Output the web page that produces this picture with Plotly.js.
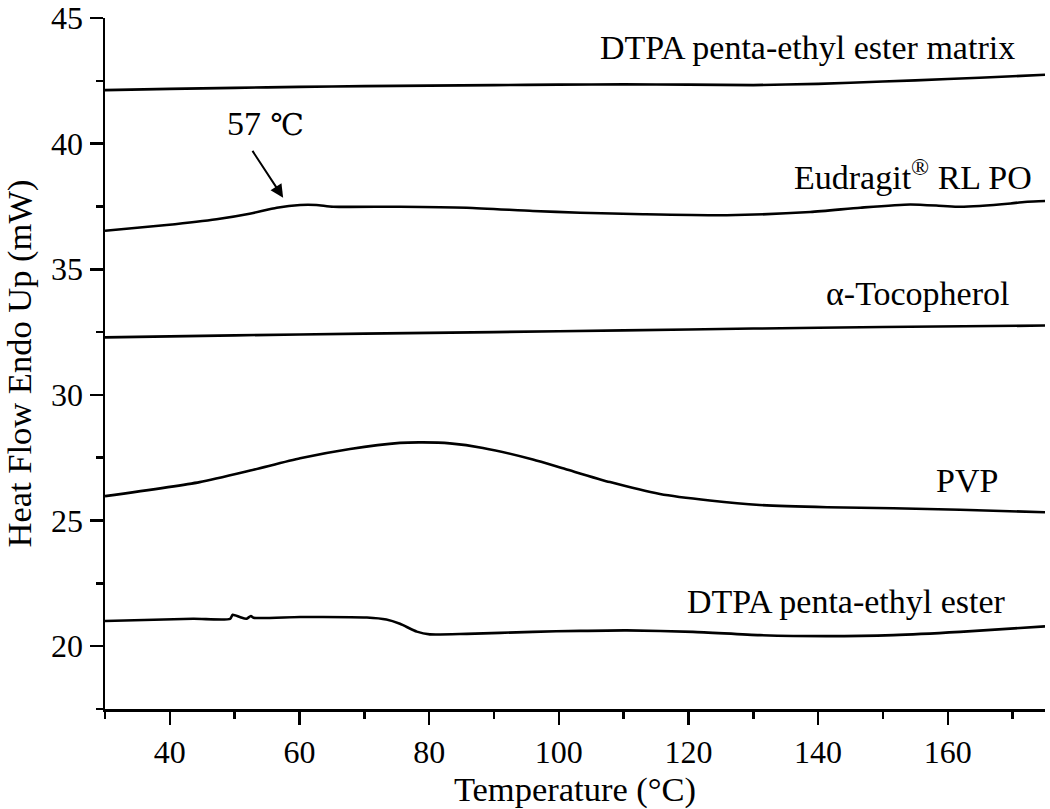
<!DOCTYPE html>
<html>
<head>
<meta charset="utf-8">
<script src="https://cdn.plot.ly/plotly-3.0.1.min.js"></script>
<style>
  body { margin: 0; background: #fff; }
  #plot { width: 1050px; height: 809px; }
</style>
</head>
<body>
<div id="plot"></div>
<script>
// DSC curves, values
var matrixT = [30, 40, 50, 60, 70, 80, 90, 100, 110, 120, 130, 140, 150, 160, 170, 175];
var matrixY = [42.13, 42.18, 42.22, 42.26, 42.29, 42.31, 42.33, 42.35, 42.36, 42.35, 42.33, 42.38, 42.47, 42.57, 42.68, 42.74];

var eudT = [30, 39.5, 47.2, 52.3, 56.5, 60.1, 62.6, 65.2, 75.5, 85.8, 96, 103.3, 113, 125.9, 138.8, 146.5, 154.2, 159.3, 161.9, 169.7, 172.3, 175];
var eudY = [36.53, 36.76, 36.99, 37.21, 37.45, 37.56, 37.56, 37.49, 37.49, 37.45, 37.32, 37.25, 37.19, 37.15, 37.28, 37.45, 37.58, 37.52, 37.49, 37.62, 37.69, 37.72];

var tocoT = [30, 50, 70, 90, 110, 130, 150, 175];
var tocoY = [32.29, 32.37, 32.44, 32.5, 32.57, 32.64, 32.7, 32.76];

var pvpT = [30, 44.6, 52.4, 60.1, 67.8, 75.5, 79, 83.2, 88.3, 96, 101, 107.9, 115.6, 123.3, 131, 141.4, 151.6, 161.9, 175];
var pvpY = [25.97, 26.53, 26.99, 27.48, 27.85, 28.09, 28.11, 28.07, 27.89, 27.43, 27.05, 26.53, 26.06, 25.8, 25.62, 25.53, 25.49, 25.43, 25.33];

var dtpaT = [30, 43.6, 49.3, 49.7, 50.8, 51.8, 52.5, 52.9, 60.1, 70.4, 73.4, 75.5, 78.1, 80.1, 85.8, 96, 103.3, 110.5, 120.7, 131, 141.3, 151.6, 161.9, 175];
var dtpaY = [21.0, 21.09, 21.09, 21.25, 21.16, 21.09, 21.2, 21.13, 21.16, 21.14, 21.06, 20.89, 20.58, 20.47, 20.49, 20.57, 20.61, 20.63, 20.57, 20.44, 20.4, 20.44, 20.57, 20.79];

var labels = ['DTPA penta-ethyl ester matrix', "Eudragit<sup style='font-size:26px'>®</sup> RL PO", 'α-Tocopherol', 'PVP', 'DTPA penta-ethyl ester'];
var labelX = [138.3, 154.6, 155.4, 163.0, 144.4];
var labelY = [43.81, 38.75, 34.03, 26.6, 21.76];

var serif = 'Liberation Serif, Times New Roman, serif';

function curve(x, y) {
  return {
    x: x,
    y: y,
    mode: 'lines',
    type: 'scatter',
    line: { color: 'black', width: 2.6, shape: 'spline', smoothing: 0.6 },
    hoverinfo: 'skip'
  };
}

var data = [
  curve(matrixT, matrixY),
  curve(eudT, eudY),
  curve(tocoT, tocoY),
  curve(pvpT, pvpY),
  curve(dtpaT, dtpaY)
];

var annotations = labels.map(function (t, i) {
  return {
    x: labelX[i], y: labelY[i], xref: 'x', yref: 'y',
    text: t, showarrow: false,
    font: { family: serif, size: 34, color: 'black' }
  };
});

// 57 C glass transition marker
annotations.push({
  x: 54.8, y: 40.79, xref: 'x', yref: 'y',
  text: "57<span style='font-family:DejaVu Serif;font-size:30px'> ℃</span>", showarrow: false,
  font: { family: serif, size: 34, color: 'black' }
});
annotations.push({
  x: 57.48, y: 37.85, xref: 'x', yref: 'y',
  ax: 52.6, ay: 39.77, axref: 'x', ayref: 'y',
  text: '', showarrow: true,
  arrowhead: 2, arrowsize: 1.3, arrowwidth: 2, arrowcolor: 'black'
});

var layout = {
  width: 1050,
  height: 809,
  margin: { l: 105, r: 5, t: 18, b: 100 },
  paper_bgcolor: 'white',
  plot_bgcolor: 'white',
  showlegend: false,
  font: { family: serif, size: 32, color: 'black' },
  xaxis: {
    range: [30, 175],
    tick0: 40, dtick: 20,
    ticks: 'outside', ticklen: 13, tickwidth: 2.5, tickcolor: 'black',
    minor: { dtick: 10, tick0: 30, ticks: 'outside', ticklen: 7, tickwidth: 2.5, tickcolor: 'black', showgrid: false },
    showline: true, linewidth: 2.5, linecolor: 'black',
    showgrid: false, zeroline: false,
    ticklabeloverflow: 'allow',
    tickfont: { family: serif, size: 32 },
    title: { text: 'Temperature (°C)', font: { family: serif, size: 34.5 }, standoff: 6 }
  },
  yaxis: {
    range: [17.5, 45],
    tick0: 20, dtick: 5,
    ticks: 'outside', ticklen: 13, tickwidth: 2.5, tickcolor: 'black',
    minor: { dtick: 2.5, tick0: 17.5, ticks: 'outside', ticklen: 7, tickwidth: 2.5, tickcolor: 'black', showgrid: false },
    showline: true, linewidth: 2.5, linecolor: 'black',
    showgrid: false, zeroline: false,
    ticklabeloverflow: 'allow',
    tickfont: { family: serif, size: 32 },
    title: { text: 'Heat Flow Endo Up (mW)', font: { family: serif, size: 34.5 }, standoff: 10 }
  },
  annotations: annotations
};

Plotly.newPlot('plot', data, layout, { staticPlot: true });
</script>
</body>
</html>
